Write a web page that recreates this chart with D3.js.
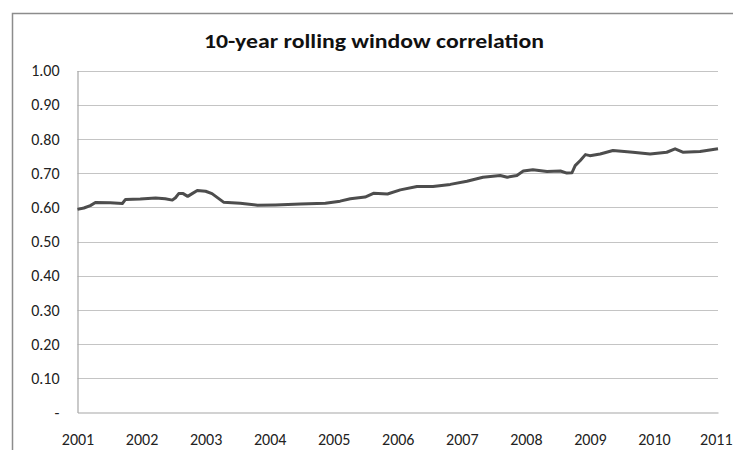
<!DOCTYPE html>
<html>
<head>
<meta charset="utf-8">
<script src="https://cdn.jsdelivr.net/npm/d3@7"></script>
<style>
  body { margin: 0; background: #fff; }
  svg { display: block; }
</style>
</head>
<body>
<svg id="chart" width="733" height="450"></svg>
<script>
const title = "10-year rolling window correlation";
const yTicks = [0, 0.1, 0.2, 0.3, 0.4, 0.5, 0.6, 0.7, 0.8, 0.9, 1.0];
const xTicks = [2001, 2002, 2003, 2004, 2005, 2006, 2007, 2008, 2009, 2010, 2011];

// rolling correlation (decimal year, value)
const years = [
  2001.0, 2001.1, 2001.2, 2001.28, 2001.51, 2001.7, 2001.75, 2001.98, 2002.22, 2002.37,
  2002.48, 2002.53, 2002.58, 2002.65, 2002.72, 2002.79, 2002.87, 2003.0, 2003.1, 2003.28,
  2003.54, 2003.81, 2004.09, 2004.48, 2004.87, 2005.1, 2005.26, 2005.49, 2005.62, 2005.84,
  2006.04, 2006.3, 2006.55, 2006.82, 2007.08, 2007.33, 2007.6, 2007.71, 2007.86, 2007.96,
  2008.11, 2008.33, 2008.54, 2008.64, 2008.72, 2008.77, 2008.85, 2008.93, 2009.0, 2009.16,
  2009.36, 2009.67, 2009.94, 2010.2, 2010.33, 2010.45, 2010.72, 2011.0
];
const corr = [
  0.594, 0.598, 0.605, 0.614, 0.613, 0.611, 0.623, 0.624, 0.627, 0.625,
  0.621, 0.628, 0.640, 0.640, 0.632, 0.640, 0.649, 0.647, 0.640, 0.615,
  0.612, 0.606, 0.607, 0.610, 0.612, 0.618, 0.625, 0.630, 0.641, 0.639,
  0.651, 0.661, 0.661, 0.667, 0.676, 0.688, 0.693, 0.688, 0.693, 0.706,
  0.710, 0.705, 0.706, 0.700, 0.701, 0.722, 0.737, 0.754, 0.751, 0.756,
  0.766, 0.761, 0.756, 0.761, 0.771, 0.761, 0.763, 0.771
];

const svg = d3.select("#chart");
const font = "Carlito, 'Liberation Sans', Arial, sans-serif";

const plotLeft = 77.5;
const plotRight = 718;
const plotTop = 70.5;
const plotBottom = 412.5;

// outer chart frame
svg.append("rect")
  .attr("x", 12.5)
  .attr("y", 13.5)
  .attr("width", 740)
  .attr("height", 460)
  .attr("fill", "none")
  .attr("stroke", "#8c8c8c")
  .attr("stroke-width", 1.5);

const x = d3.scaleLinear().domain([2001, 2011]).range([plotLeft, plotRight]);
const y = d3.scaleLinear().domain([0, 1]).range([plotBottom, plotTop]);

svg.append("text")
  .attr("x", 374)
  .attr("y", 48)
  .attr("text-anchor", "middle")
  .attr("font-family", font)
  .attr("font-weight", "bold")
  .attr("font-size", 21)
  .attr("fill", "#111")
  .attr("textLength", 340)
  .attr("lengthAdjust", "spacingAndGlyphs")
  .text(title);

// gridlines
svg.append("g")
  .selectAll("line")
  .data(yTicks.filter((d) => d > 0))
  .enter()
  .append("line")
  .attr("x1", plotLeft)
  .attr("x2", plotRight)
  .attr("y1", (d) => Math.round(y(d)) + 0.5)
  .attr("y2", (d) => Math.round(y(d)) + 0.5)
  .attr("stroke", "#c4c4c4")
  .attr("stroke-width", 1.2);

// axes
const yAxis = d3.axisLeft(y)
  .tickValues(yTicks)
  .tickSize(0)
  .tickPadding(18)
  .tickFormat((d) => (d === 0 ? "-" : d3.format(".2f")(d)));
const gy = svg.append("g").attr("transform", `translate(${plotLeft},0)`).call(yAxis);
gy.select(".domain").attr("stroke", "#a6a6a6").attr("stroke-width", 1.2);
gy.selectAll("text")
  .attr("font-family", font)
  .attr("font-size", 16)
  .attr("fill", "#222");

const xAxis = d3.axisBottom(x)
  .tickValues(xTicks)
  .tickSize(0)
  .tickPadding(21)
  .tickFormat(d3.format("d"));
const gx = svg.append("g").attr("transform", `translate(0,${plotBottom})`).call(xAxis);
gx.select(".domain").attr("stroke", "#a6a6a6").attr("stroke-width", 1.2);
gx.selectAll("text")
  .attr("font-family", font)
  .attr("font-size", 16)
  .attr("fill", "#222");
// last year label sits against the right edge; keep it inside the window
gx.selectAll("text")
  .filter((d) => d === 2011)
  .attr("text-anchor", "end")
  .attr("x", 732 - plotRight);

// series line
const line = d3.line()
  .x((d, i) => x(years[i]))
  .y((d) => y(d));
svg.append("path")
  .attr("fill", "none")
  .attr("stroke", "#4d4d4d")
  .attr("stroke-width", 3)
  .attr("stroke-linejoin", "round")
  .attr("d", line(corr));
</script>
</body>
</html>
